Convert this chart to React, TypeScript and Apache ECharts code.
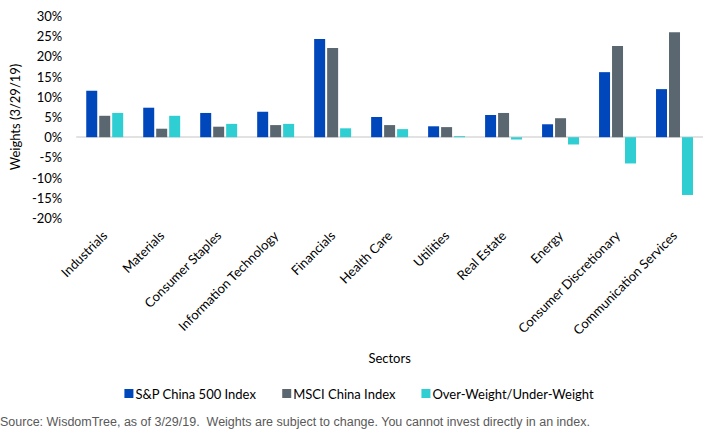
import React, { useEffect, useRef } from "react";
import * as echarts from "echarts";

const categories = [
  "Industrials",
  "Materials",
  "Consumer Staples",
  "Information Technology",
  "Financials",
  "Health Care",
  "Utilities",
  "Real Estate",
  "Energy",
  "Consumer Discretionary",
  "Communication Services",
];
const spChina500 = [11.5, 7.3, 6.0, 6.3, 24.3, 5.0, 2.7, 5.5, 3.2, 16.1, 11.9];
const msciChina = [5.3, 2.1, 2.6, 3.0, 22.1, 3.0, 2.5, 6.0, 4.7, 22.6, 26.0];
const overUnder = [6.0, 5.3, 3.3, 3.3, 2.2, 2.0, 0.25, -0.6, -1.8, -6.5, -14.3];
const seriesNames = ["S&P China 500 Index", "MSCI China Index", "Over-Weight/Under-Weight"];
const colors = ["#0047BB", "#5B6770", "#2ECED3"];

const FONT = "Lato, 'Open Sans', sans-serif";

export default function App() {
  const ref = useRef<HTMLDivElement>(null);
  useEffect(() => {
    if (!ref.current) return;
    const chart = echarts.init(ref.current, undefined, { renderer: "svg" });
    const dataSets = [spChina500, msciChina, overUnder];
    chart.setOption({
      animation: false,
      backgroundColor: "#ffffff",
      textStyle: { fontFamily: FONT },
      grid: { left: 66, right: 15, top: 16, bottom: 222, containLabel: false },
      legend: {
        data: seriesNames.map((n) => ({ name: n, icon: "path://M0,0h10v10h-10z" })),
        bottom: 35,
        left: "center",
        itemWidth: 9,
        itemHeight: 9,
        itemGap: 26,
        textStyle: { fontFamily: FONT, fontSize: 13, color: "#000000", padding: [0, 0, 0, -3] },
      },
      xAxis: {
        type: "category",
        data: categories,
        name: "Sectors",
        nameLocation: "middle",
        nameGap: 133,
        nameTextStyle: { fontFamily: FONT, fontSize: 13, color: "#000000" },
        axisLine: { show: false, onZero: false },
        axisTick: { show: false },
        axisLabel: {
          rotate: 45,
          interval: 0,
          margin: 15,
          fontFamily: FONT,
          fontSize: 13,
          color: "#000000",
        },
      },
      yAxis: {
        type: "value",
        min: -20,
        max: 30,
        interval: 5,
        name: "Weights (3/29/19)",
        nameLocation: "middle",
        nameGap: 50,
        nameTextStyle: { fontFamily: FONT, fontSize: 13, color: "#000000" },
        splitLine: { show: false },
        axisLine: { show: false },
        axisTick: { show: false },
        axisLabel: {
          formatter: "{value}%",
          margin: 14,
          fontFamily: FONT,
          fontSize: 13,
          color: "#000000",
        },
      },
      series: dataSets.map((d, i) => ({
        name: seriesNames[i],
        type: "bar",
        data: d,
        barWidth: 11,
        barGap: "18%",
        itemStyle: { color: colors[i] },
        z: 3,
        ...(i === 0
          ? {
              markLine: {
                silent: true,
                symbol: "none",
                label: { show: false },
                lineStyle: { color: "#D9D9D9", width: 1.5, type: "solid" },
                data: [{ yAxis: 0 }],
                z: 1,
              },
            }
          : {}),
      })),
      graphic: [
        {
          type: "text",
          left: 0,
          top: 415,
          style: {
            text: "Source: WisdomTree, as of 3/29/19.  Weights are subject to change. You cannot invest directly in an index.",
            font: "12.5px 'Liberation Sans', Arial, sans-serif",
            fill: "#595959",
          },
        },
      ],
    });
    return () => chart.dispose();
  }, []);
  return (
    <div style={{ position: "fixed", left: 0, top: 0, width: 718, height: 440, background: "#fff" }}>
      <div ref={ref} style={{ width: 718, height: 440 }} />
    </div>
  );
}
